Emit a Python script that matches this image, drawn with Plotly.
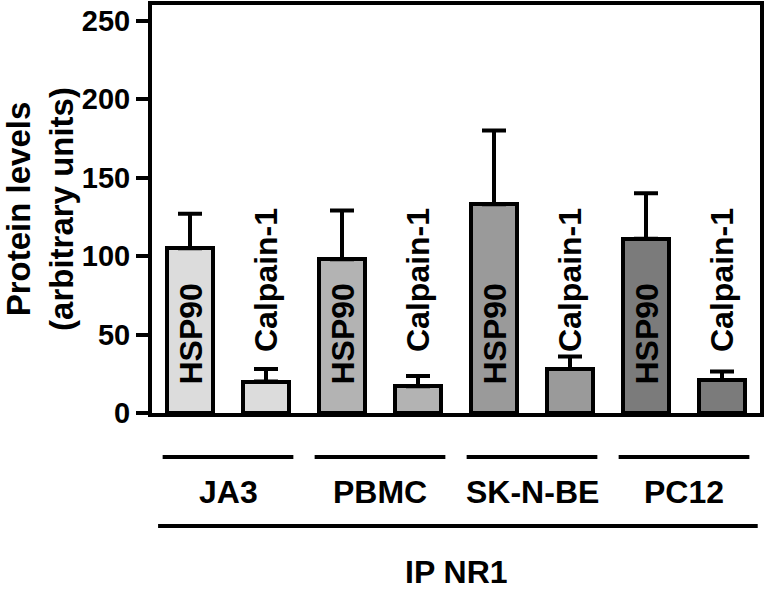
import plotly.graph_objects as go

# --- data ---
cell_lines = ["JA3", "PBMC", "SK-N-BE", "PC12"]
proteins = ["HSP90", "Calpain-1"]
hsp90_mean = [105, 98, 133, 111]
hsp90_err = [22, 31, 47, 29]
calpain_mean = [20, 17, 28, 21]
calpain_err = [8, 6.5, 8, 5.5]
line_colors = ["#dcdcdc", "#b3b3b3", "#9a9a9a", "#7b7b7b"]
y_ticks = [0, 50, 100, 150, 200, 250]
y_title = "Protein levels<br>(arbitrary units)"
group_title = "IP NR1"

FONT = "Liberation Sans, Arial, sans-serif"
W, H = 766, 589
M_L, M_R, M_T, M_B = 152, 6, 5, 176


def paper_y(py):
    # pixel row -> paper fraction (below the plot is negative)
    return (H - M_B - py) / (H - M_T - M_B)


# interleave HSP90 / Calpain-1 bars for each cell line
xs, ys, errs, cols, labels = [], [], [], [], []
for g, name in enumerate(cell_lines):
    for p, (m, e) in enumerate([(hsp90_mean[g], hsp90_err[g]),
                                (calpain_mean[g], calpain_err[g])]):
        xs.append(2 * g + p)
        ys.append(m)
        errs.append(e)
        cols.append(line_colors[g])
        labels.append(proteins[p])

fig = go.Figure()
fig.add_trace(go.Bar(
    x=xs, y=ys, width=0.6,
    marker=dict(color=cols, line=dict(color="black", width=4)),
    error_y=dict(type="data", symmetric=False, array=errs,
                 arrayminus=[0] * len(errs),
                 color="black", thickness=4, width=12),
    showlegend=False, hoverinfo="skip",
))

annotations = []
for x, lab in zip(xs, labels):
    inside = lab == proteins[0]
    annotations.append(dict(
        x=x, y=0, xref="x", yref="y", text=lab, textangle=-90,
        showarrow=False, xanchor="center", yanchor="bottom",
        yshift=26 if inside else 59,
        font=dict(family=FONT, size=32, color="black", weight="bold"),
    ))

shapes = []
for g, name in enumerate(cell_lines):
    c = 2 * g + 0.5
    shapes.append(dict(type="line", xref="x", yref="paper",
                       x0=c - 0.86, x1=c + 0.86,
                       y0=paper_y(457), y1=paper_y(457),
                       line=dict(color="black", width=4)))
    annotations.append(dict(
        x=c, y=paper_y(492), xref="x", yref="paper", text=name,
        showarrow=False, xanchor="center", yanchor="middle",
        font=dict(family=FONT, size=32, color="black", weight="bold"),
    ))
shapes.append(dict(type="line", xref="x", yref="paper",
                   x0=-0.42, x1=len(xs) - 0.53,
                   y0=paper_y(526), y1=paper_y(526),
                   line=dict(color="black", width=4)))
annotations.append(dict(
    x=(len(xs) - 1) / 2, y=paper_y(572), xref="x", yref="paper",
    text=group_title, showarrow=False, xanchor="center", yanchor="middle",
    font=dict(family=FONT, size=32, color="black", weight="bold"),
))

fig.update_layout(
    width=W, height=H,
    margin=dict(l=M_L, r=M_R, t=M_T, b=M_B, autoexpand=False),
    plot_bgcolor="white", paper_bgcolor="white",
    bargap=0, showlegend=False,
    shapes=shapes, annotations=annotations,
    xaxis=dict(range=[-0.5, len(xs) - 0.5], showticklabels=False,
               ticks="", showgrid=False, zeroline=False, automargin=False,
               showline=True, linecolor="black", linewidth=4, mirror=True),
    yaxis=dict(range=[0, 260], tickvals=y_ticks, ticks="outside",
               ticklen=12, tickwidth=4, tickcolor="black",
               showgrid=False, zeroline=False, automargin=False,
               showline=True, linecolor="black", linewidth=4, mirror=True,
               tickfont=dict(family=FONT, size=29, color="black", weight="bold"),
               title=dict(text=y_title, standoff=4,
                          font=dict(family=FONT, size=33, color="black",
                                    weight="bold"))),
)

# the page's default body margin would push the fixed-size figure off the window
fig.write_html("out.html", config={"displayModeBar": False},
               post_script="document.body.style.margin='0';")
